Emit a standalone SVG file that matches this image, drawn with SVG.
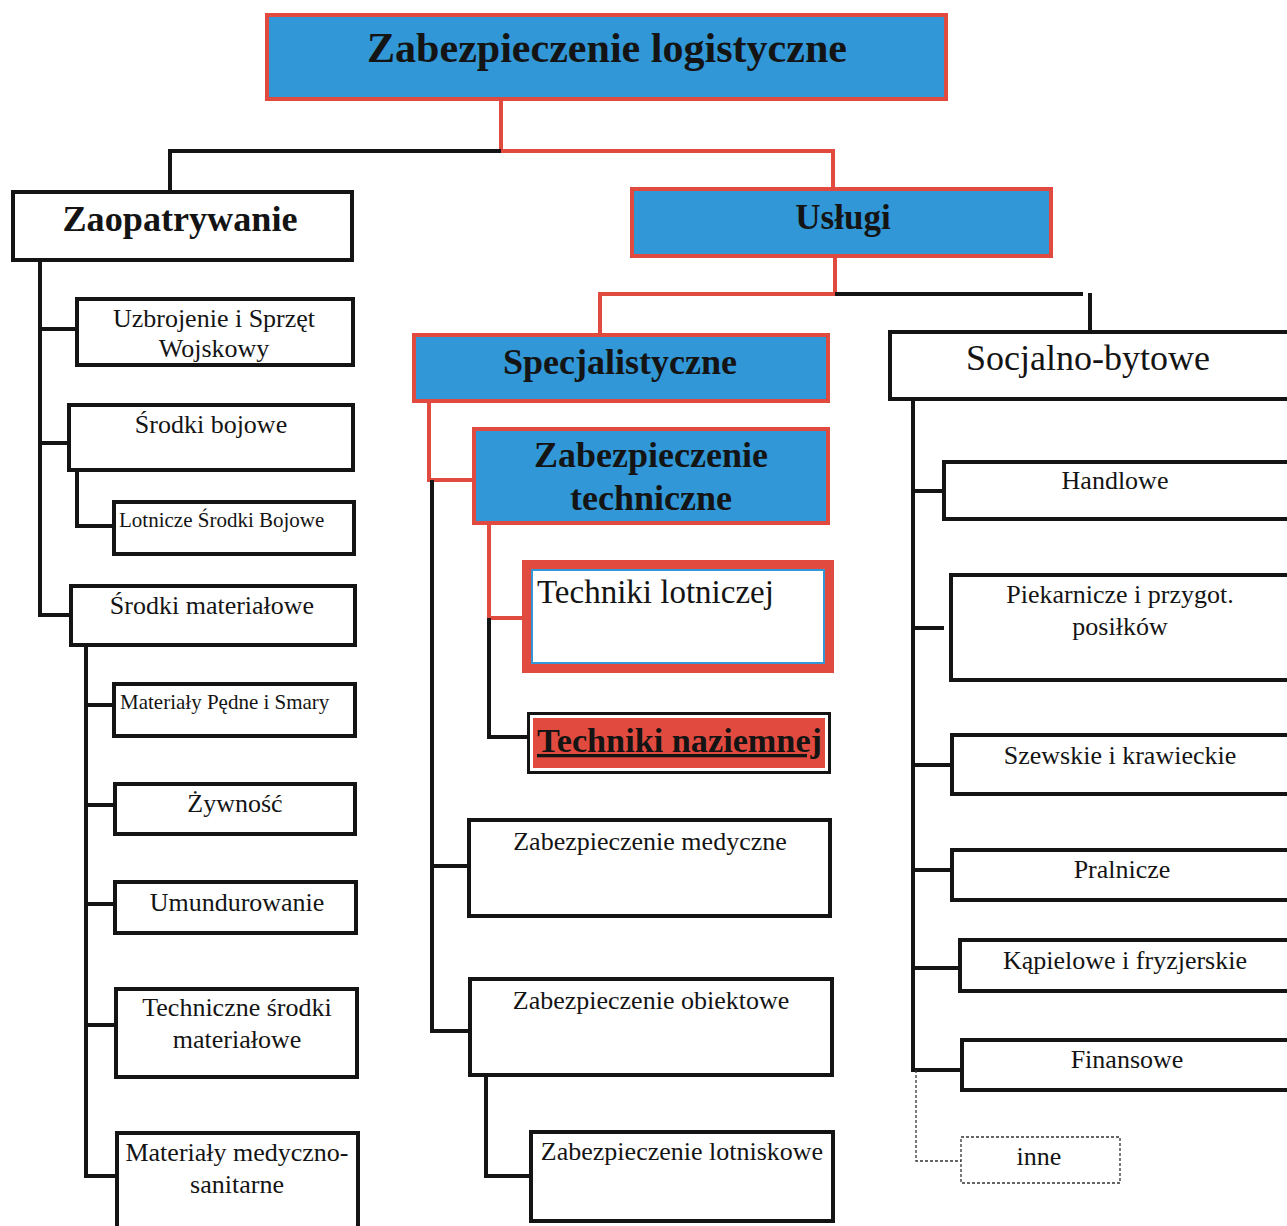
<svg xmlns="http://www.w3.org/2000/svg" width="1287" height="1226" viewBox="0 0 1287 1226">
  <style>
    .box { fill: #ffffff; stroke: #141414; stroke-width: 4; }
    .hot { fill: #3197d6; stroke: #e14b3f; stroke-width: 4; }
    .lnk { fill: none; stroke: #141414; stroke-width: 4; }
    .lnr { fill: none; stroke: #e14b3f; stroke-width: 4; }
    .dash { fill: none; stroke: #333333; stroke-width: 1.3; stroke-dasharray: 3 2; }
    text { font-family: "Liberation Serif", "Times New Roman", serif; fill: #141414; }
    .b { font-weight: bold; }
    .c { text-anchor: middle; }
    .s26 { font-size: 26px; }
    .s21 { font-size: 21px; }
  </style>
  <rect width="1287" height="1226" fill="#ffffff"/>

  <!-- connectors -->
  <g id="connectors">
    <path class="lnr" d="M501,101 V151 H833 V187"/>
    <path class="lnk" d="M501,151 H170 V190"/>
    <path class="lnr" d="M835,258 V294 H600 V333"/>
    <path class="lnk" d="M835,294 H1083"/>
    <path class="lnk" d="M1090,293 V330"/>
    <!-- Zaopatrywanie branch -->
    <path class="lnk" d="M40,262 V615 H69 M40,329 H75 M40,443 H67"/>
    <path class="lnk" d="M77,472 V526 H112"/>
    <path class="lnk" d="M86,647 V1176 H115 M86,705 H112 M86,805 H113 M86,904 H113 M86,1025 H114"/>
    <!-- Specjalistyczne branch -->
    <path class="lnr" d="M429,403 V480 H472"/>
    <path class="lnk" d="M432,480 V1031 H468 M432,866 H467"/>
    <path class="lnr" d="M489,525 V618 H522"/>
    <path class="lnk" d="M489,618 V737 H527"/>
    <path class="lnk" d="M486,1077 V1176 H529"/>
    <!-- Socjalno-bytowe branch -->
    <path class="lnk" d="M913,400 V1070 H960 M913,491 H942 M913,628 H944 M913,765 H950 M913,870 H950 M913,968 H958"/>
    <path class="dash" d="M916,1070 V1161 H961"/>
  </g>

  <!-- top level -->
  <g id="n-logistyczne">
    <rect class="hot" x="267" y="15" width="679" height="84"/>
    <text class="b c" x="607" y="62" font-size="43" textLength="480" lengthAdjust="spacingAndGlyphs">Zabezpieczenie logistyczne</text>
  </g>

  <g id="n-zaopatrywanie">
    <rect class="box" x="13" y="192" width="339" height="68"/>
    <text class="b c" x="180" y="231" font-size="35" textLength="235" lengthAdjust="spacingAndGlyphs">Zaopatrywanie</text>
  </g>

  <g id="n-uslugi">
    <rect class="hot" x="632" y="189" width="419" height="67"/>
    <text class="b c" x="843" y="229" font-size="35">Usługi</text>
  </g>

  <g id="n-specjalistyczne">
    <rect class="hot" x="414" y="335" width="414" height="66"/>
    <text class="b c" x="620" y="374" font-size="36">Specjalistyczne</text>
  </g>

  <g id="n-socjalno">
    <rect class="box" x="890" y="332" width="400" height="67"/>
    <text class="c" x="1088" y="370" font-size="36">Socjalno-bytowe</text>
  </g>

  <!-- Zaopatrywanie children -->
  <g id="n-uzbrojenie">
    <rect class="box" x="77" y="299" width="276" height="66"/>
    <text class="c s26" x="214" y="327">Uzbrojenie i Sprzęt</text>
    <text class="c s26" x="214" y="357">Wojskowy</text>
  </g>

  <g id="n-srodki-bojowe">
    <rect class="box" x="69" y="405" width="284" height="65"/>
    <text class="c s26" x="211" y="433">Środki bojowe</text>
  </g>

  <g id="n-lotnicze-srodki">
    <rect class="box" x="114" y="502" width="240" height="52"/>
    <text class="s21" x="119" y="527">Lotnicze Środki Bojowe</text>
  </g>

  <g id="n-srodki-materialowe">
    <rect class="box" x="71" y="586" width="284" height="59"/>
    <text class="c s26" x="212" y="614">Środki materiałowe</text>
  </g>

  <g id="n-pedne">
    <rect class="box" x="114" y="684" width="241" height="52"/>
    <text class="s21" x="120" y="709">Materiały Pędne i Smary</text>
  </g>

  <g id="n-zywnosc">
    <rect class="box" x="115" y="784" width="240" height="50"/>
    <text class="c s26" x="235" y="812">Żywność</text>
  </g>

  <g id="n-umundurowanie">
    <rect class="box" x="115" y="882" width="241" height="51"/>
    <text class="c s26" x="237" y="911">Umundurowanie</text>
  </g>

  <g id="n-techniczne-srodki">
    <rect class="box" x="116" y="989" width="241" height="88"/>
    <text class="c s26" x="237" y="1016">Techniczne środki</text>
    <text class="c s26" x="237" y="1048">materiałowe</text>
  </g>

  <g id="n-medyczno-sanitarne">
    <rect class="box" x="117" y="1133" width="241" height="100"/>
    <text class="c s26" x="237" y="1161">Materiały medyczno-</text>
    <text class="c s26" x="237" y="1193">sanitarne</text>
  </g>

  <!-- Specjalistyczne children -->
  <g id="n-zab-techniczne">
    <rect class="hot" x="474" y="429" width="354" height="94"/>
    <text class="b c" x="651" y="467" font-size="36">Zabezpieczenie</text>
    <text class="b c" x="651" y="510" font-size="36">techniczne</text>
  </g>

  <g id="n-techniki-lotniczej">
    <rect x="522" y="560" width="312" height="113" fill="#e14b3f"/>
    <rect x="532" y="570" width="292" height="93" fill="#ffffff" stroke="#3197d6" stroke-width="2"/>
    <text x="537" y="603" font-size="33">Techniki lotniczej</text>
  </g>

  <g id="n-techniki-naziemnej">
    <rect x="528.5" y="713.5" width="301" height="59" fill="#ffffff" stroke="#141414" stroke-width="3"/>
    <rect x="533" y="718" width="292" height="50" fill="#e14b3f"/>
    <text class="b" x="537" y="752" font-size="33" text-decoration="underline" textLength="285" lengthAdjust="spacingAndGlyphs">Techniki naziemnej</text>
  </g>

  <g id="n-zab-medyczne">
    <rect class="box" x="469" y="820" width="361" height="96"/>
    <text class="c s26" x="650" y="850">Zabezpieczenie medyczne</text>
  </g>

  <g id="n-zab-obiektowe">
    <rect class="box" x="470" y="979" width="362" height="96"/>
    <text class="c s26" x="651" y="1009">Zabezpieczenie obiektowe</text>
  </g>

  <g id="n-zab-lotniskowe">
    <rect class="box" x="531" y="1132" width="302" height="89"/>
    <text class="c s26" x="682" y="1160">Zabezpieczenie lotniskowe</text>
  </g>

  <!-- Socjalno-bytowe children -->
  <g id="n-handlowe">
    <rect class="box" x="944" y="462" width="346" height="57"/>
    <text class="c s26" x="1115" y="489">Handlowe</text>
  </g>

  <g id="n-piekarnicze">
    <rect class="box" x="951" y="575" width="339" height="105"/>
    <text class="c s26" x="1120" y="603">Piekarnicze i przygot.</text>
    <text class="c s26" x="1120" y="635">posiłków</text>
  </g>

  <g id="n-szewskie">
    <rect class="box" x="952" y="735" width="338" height="59"/>
    <text class="c s26" x="1120" y="764">Szewskie i krawieckie</text>
  </g>

  <g id="n-pralnicze">
    <rect class="box" x="952" y="850" width="338" height="50"/>
    <text class="c s26" x="1122" y="878">Pralnicze</text>
  </g>

  <g id="n-kapielowe">
    <rect class="box" x="960" y="940" width="330" height="51"/>
    <text class="c s26" x="1125" y="969">Kąpielowe i fryzjerskie</text>
  </g>

  <g id="n-finansowe">
    <rect class="box" x="962" y="1040" width="328" height="50"/>
    <text class="c s26" x="1127" y="1068">Finansowe</text>
  </g>

  <g id="n-inne">
    <rect class="dash" x="961" y="1137" width="159" height="46"/>
    <text class="c s26" x="1039" y="1165">inne</text>
  </g>
</svg>
